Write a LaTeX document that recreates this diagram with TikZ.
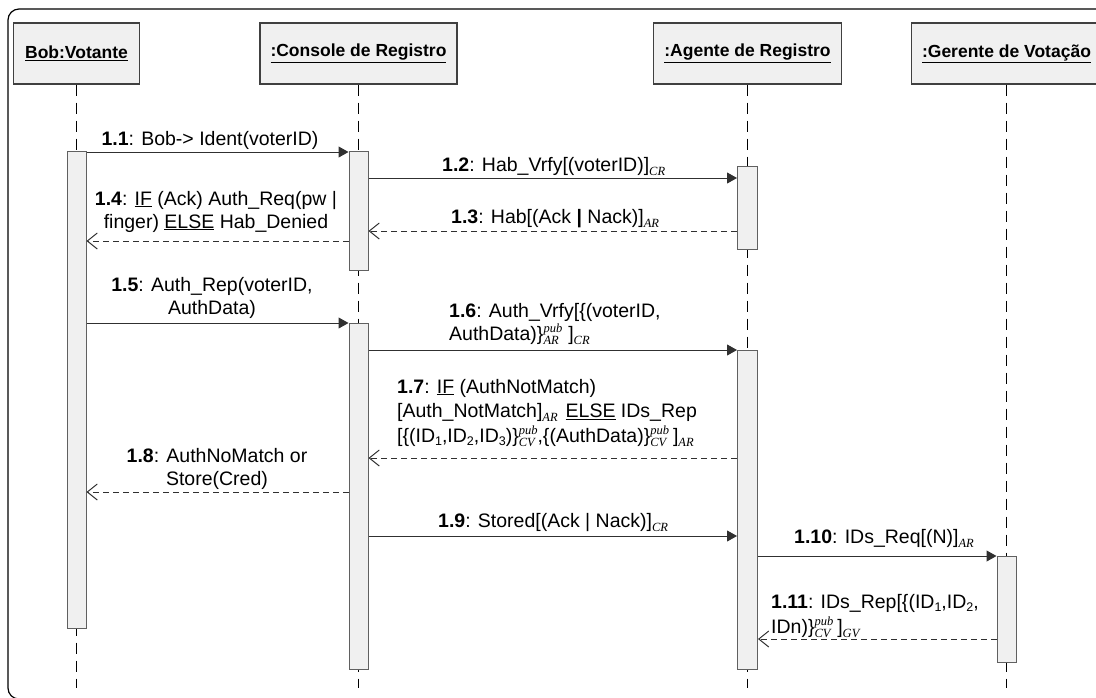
\documentclass[tikz,border=0pt]{standalone}
\usepackage{fontspec}
\setmainfont{Liberation Sans}
\newfontfamily\tmsfont{Liberation Serif}
\usetikzlibrary{arrows.meta}

\definecolor{boxfill}{HTML}{F0F0F0}
\definecolor{boxline}{HTML}{404040}
\definecolor{barline}{HTML}{606060}
\definecolor{msgline}{HTML}{303030}

% message text, key indices and stacked key labels
\newcommand{\msgsize}{\fontsize{19.5}{23}\selectfont}
\newcommand{\msgno}[1]{\textbf{#1}}
\newcommand{\keyfont}[1]{{\tmsfont\itshape\fontsize{12.5}{12.5}\selectfont #1}}
\newcommand{\ksub}[1]{\raisebox{-4pt}{\keyfont{#1}}}
\newcommand{\kpair}[2]{\lower4pt\vbox{\offinterlineskip\hbox{\keyfont{#1}}\kern1pt\hbox{\keyfont{#2}}}}
\newcommand{\nsub}[1]{\raisebox{-3pt}{\fontsize{12.5}{12.5}\selectfont #1}}

\begin{document}
\begin{tikzpicture}[x=1pt,y=-1pt,
  head/.style={draw=boxline, line width=1.2pt, fill=boxfill, minimum height=61pt,
    inner sep=0pt, font=\fontsize{17.5}{20}\selectfont\bfseries},
  actbar/.style={draw=barline, line width=1pt, fill=boxfill, minimum width=19pt,
    inner sep=0pt, anchor=north},
  life/.style={line width=1.4pt, dash pattern=on 11pt off 7pt},
  call/.style={draw=msgline, line width=1pt, -{Triangle[length=10pt,width=11pt]}},
  reply/.style={draw=msgline, line width=1pt, dash pattern=on 6pt off 4pt,
    -{Straight Barb[length=10pt,width=16pt]}},
  lbl/.style={font=\msgsize, inner sep=0pt}]
\useasboundingbox (0,0) rectangle (1096,697);
\clip (0,0) rectangle (1096,697);

% outer frame
\draw[line width=1.2pt, rounded corners=11pt] (8,9) rectangle (1140,699);

% object headers
\node[head, minimum width=126pt] (bob) at (76.5,53.5) {\underline{Bob:Votante}};
\node[head, minimum width=197pt] (con) at (358.5,53.5) {\underline{:Console de Registro}};
\node[head, minimum width=188pt] (age) at (747.5,53.5) {\underline{:Agente de Registro}};
\node[head, minimum width=190pt] (ger) at (1006.5,53.5) {\underline{:Gerente de Votação}};

% lifelines
\coordinate (bot) at (0,688);
\draw[life] (bob.south) -- (bob.south |- bot);
\draw[life] (con.south) -- (con.south |- bot);
\draw[life] (age.south) -- (age.south |- bot);
\draw[life] (ger.south) -- (ger.south |- bot);

% activation bars
\node[actbar, minimum height=477pt] (bobA) at (76.5,151) {};
\node[actbar, minimum height=119pt] (conA) at (358.5,151) {};
\node[actbar, minimum height=346pt] (conB) at (358.5,323) {};
\node[actbar, minimum width=20pt, minimum height=83pt] (ageA) at (747.5,166) {};
\node[actbar, minimum width=20pt, minimum height=319pt] (ageB) at (747.5,350) {};
\node[actbar, minimum height=106pt] (gerA) at (1006.5,556) {};

% message rows
\coordinate (m1) at (0,152);
\coordinate (m2) at (0,178);
\coordinate (m3) at (0,231);
\coordinate (m4) at (0,241);
\coordinate (m5) at (0,323);
\coordinate (m6) at (0,350);
\coordinate (m7) at (0,458);
\coordinate (m8) at (0,492);
\coordinate (m9) at (0,536);
\coordinate (m10) at (0,556);
\coordinate (m11) at (0,639);

\draw[call] (bobA.east |- m1) -- (conA.west |- m1);
\draw[call] (conA.east |- m2) -- (ageA.west |- m2);
\draw[reply] (ageA.west |- m3) -- (conA.east |- m3);
\draw[reply] (conA.west |- m4) -- (bobA.east |- m4);
\draw[call] (bobA.east |- m5) -- (conB.west |- m5);
\draw[call] (conB.east |- m6) -- (ageB.west |- m6);
\draw[reply] (ageB.west |- m7) -- (conB.east |- m7);
\draw[reply] (conB.west |- m8) -- (bobA.east |- m8);
\draw[call] (conB.east |- m9) -- (ageB.west |- m9);
\draw[call] (ageB.east |- m10) -- (gerA.west |- m10);
\draw[reply] (gerA.west |- m11) -- (ageB.east |- m11);

% message labels
\node[lbl, anchor=base] (l1) at (210,145) {\msgno{1.1}: Bob-> Ident(voterID)};
\node[lbl, anchor=base west] (l2) at (442,171) {\msgno{1.2}: Hab\_Vrfy[(voterID)]\ksub{CR}};
\node[lbl, anchor=base west] (l3) at (451,223) {\msgno{1.3}: Hab[(Ack \textbf{|} Nack)]\ksub{AR}};
\node[lbl, anchor=base] (l4) at (216,205) {\begin{tabular}[t]{@{}c@{}}
  \msgno{1.4}: \underline{IF} (Ack) Auth\_Req(pw |\\
  finger) \underline{ELSE} Hab\_Denied\end{tabular}};
\node[lbl, anchor=base] (l5) at (212,291) {\begin{tabular}[t]{@{}c@{}}
  \msgno{1.5}: Auth\_Rep(voterID,\\ AuthData)\end{tabular}};
\node[lbl, anchor=base west] (l6) at (449,317) {\begin{tabular}[t]{@{}l@{}}
  \msgno{1.6}: Auth\_Vrfy[\{(voterID,\\
  AuthData)\}\kpair{pub}{AR}\hspace{6pt}]\ksub{CR}\end{tabular}};
\node[lbl, anchor=base west] (l7) at (397,393) {\begin{tabular}[t]{@{}l@{}}
  \msgno{1.7}: \underline{IF} (AuthNotMatch)\\[1.5pt]
  [Auth\_NotMatch]\ksub{AR}\hspace{8pt}\underline{ELSE} IDs\_Rep\\[1.5pt]
  [\{(ID\nsub{1},ID\nsub{2},ID\nsub{3})\}\kpair{pub}{CV},\{(AuthData)\}\kpair{pub}{CV}\hspace{4pt}]\ksub{AR}\end{tabular}};
\node[lbl, anchor=base] (l8) at (217,462) {\begin{tabular}[t]{@{}c@{}}
  \msgno{1.8}: AuthNoMatch or\\ Store(Cred)\end{tabular}};
\node[lbl, anchor=base west] (l9) at (438,527) {\msgno{1.9}: Stored[(Ack | Nack)]\ksub{CR}};
\node[lbl, anchor=base west] (l10) at (794,543) {\msgno{1.10}: IDs\_Req[(N)]\ksub{AR}};
\node[lbl, anchor=base west] (l11) at (771,608) {\begin{tabular}[t]{@{}l@{}}
  \msgno{1.11}: IDs\_Rep[\{(ID\nsub{1},ID\nsub{2},\\[2pt]
  IDn)\}\kpair{pub}{CV}\hspace{4pt}]\ksub{GV}\end{tabular}};
\end{tikzpicture}
\end{document}
